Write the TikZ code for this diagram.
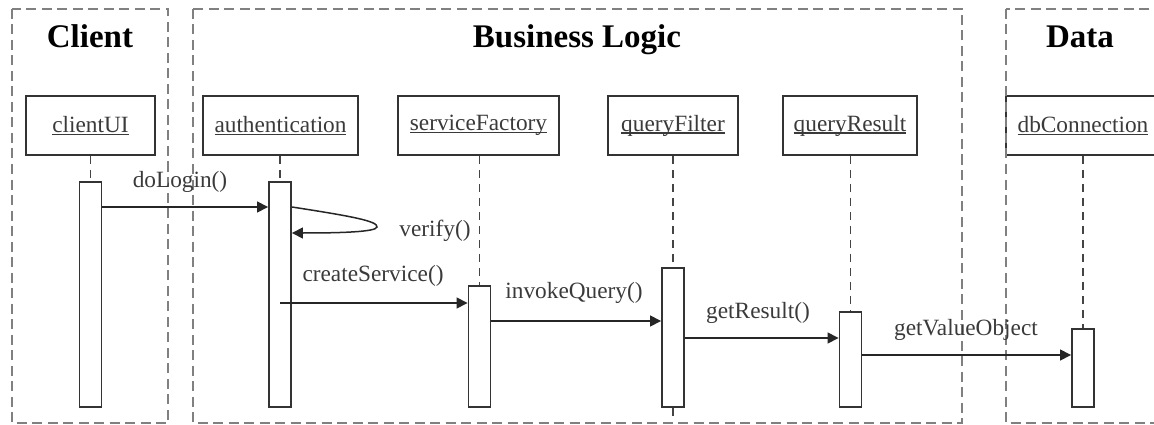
\documentclass[tikz,border=0pt]{standalone}
\usepackage{fontspec}
\setmainfont{Liberation Serif}
\usetikzlibrary{arrows.meta}
\definecolor{framegray}{HTML}{808080}
\definecolor{lifegray}{HTML}{444444}
\definecolor{labelgray}{HTML}{3A3A3A}
\newcommand\objname[1]{\setbox0\hbox{#1}\leavevmode\rlap{\copy0}\rule[-2.5pt]{\wd0}{1.1pt}}
\begin{document}
\begin{tikzpicture}[x=1pt,y=-1pt,
  frame/.style={draw=framegray, line width=2.3pt, dash pattern=on 10pt off 5.5pt},
  title/.style={font=\fontsize{33}{36}\selectfont\bfseries, text=black, inner sep=0pt, anchor=base},
  obj/.style={draw=black!80, line width=1.9pt, fill=white, minimum height=59pt, inner sep=0pt, font=\fontsize{23.3}{26}\selectfont, text=labelgray},
  life/.style={draw=lifegray, line width=1.8pt, dash pattern=on 8pt off 6pt},
  act/.style={draw=black!80, line width=1.9pt, fill=white, minimum width=22pt, inner sep=0pt},
  msg/.style={draw=black!85, line width=1.5pt, -{Triangle[length=11pt,width=11pt]}},
  lbl/.style={font=\fontsize{23.3}{26}\selectfont, text=labelgray, inner sep=0pt, anchor=base}
]
\useasboundingbox (0,0) rectangle (1154,425);
\clip (0,0) rectangle (1154,425);

% object boxes
\node[obj, minimum width=129pt] (cui) at (90.5,125.5) {\objname{clientUI}};
\node[obj, minimum width=155pt] (auth) at (280.5,125.5) {\objname{authentication}};
\node[obj, minimum width=161pt] (sf) at (478.5,125.5) {\objname{serviceFactory}};
\node[obj, minimum width=130pt] (qf) at (673,125.5) {\objname{queryFilter}};
\node[obj, minimum width=134pt] (qr) at (850,125.5) {\objname{queryResult}};
\node[obj, minimum width=154pt] (db) at (1083,125.5) {\objname{dbConnection}};

% activation bars
\node[act, minimum height=225pt] (cuiBar) at (90.5,294.5) {};
\node[act, minimum height=225pt] (authBar) at (280,294.5) {};
\node[act, minimum height=121pt] (sfBar) at (479.5,346.5) {};
\node[act, minimum height=139pt] (qfBar) at (673,337.5) {};
\node[act, minimum height=95pt] (qrBar) at (850.5,359.5) {};
\node[act, minimum height=78pt] (dbBar) at (1083,368) {};

% lifelines
\draw[life] (cui.south) -- (cuiBar.north);
\draw[life] (auth.south -| authBar.north) -- (authBar.north);
\draw[life] (sf.south -| sfBar.north) -- (sfBar.north);
\draw[life] (qf.south) -- (qfBar.north);
\coordinate (qfEnd) at (673,418);
\draw[life] (qfBar.south) -- (qfEnd);
\draw[life] (qr.south -| qrBar.north) -- (qrBar.north);
\draw[life] (db.south) -- (dbBar.north);

% frames
\draw[frame] (12,9) rectangle (168,423);
\draw[frame] (193,9) rectangle (962,423);
\draw[frame] (1006,9) rectangle (1175,423);

% titles
\node[title] (tClient) at (90,47.5) {Client};
\node[title] (tBiz) at (577,47.5) {Business Logic};
\node[title] (tData) at (1080,47.5) {Data};

% messages
\draw[msg] (cuiBar.east |- 0,207) -- (authBar.west |- 0,207);
\node[lbl] (lLogin) at (180,187) {doLogin()};

\coordinate (vStart) at (authBar.east |- 0,207);
\coordinate (vEnd) at (authBar.east |- 0,233);
\draw[msg] (vStart) .. controls (350,216) and (378,221) .. (377,227)
  .. controls (376,232) and (340,233) .. (vEnd);
\node[lbl] (lVerify) at (435,236) {verify()};

\draw[msg] (authBar.center |- 0,303) -- (sfBar.west |- 0,303);
\node[lbl] (lCreate) at (373,281) {createService()};

\draw[msg] (sfBar.east |- 0,321) -- (qfBar.west |- 0,321);
\node[lbl] (lInvoke) at (574,298) {invokeQuery()};

\draw[msg] (qfBar.east |- 0,338) -- (qrBar.west |- 0,338);
\node[lbl] (lResult) at (758,318) {getResult()};

\draw[msg] (qrBar.east |- 0,355) -- (dbBar.west |- 0,355);
\node[lbl] (lValue) at (966,335) {getValueObject};
\end{tikzpicture}
\end{document}
